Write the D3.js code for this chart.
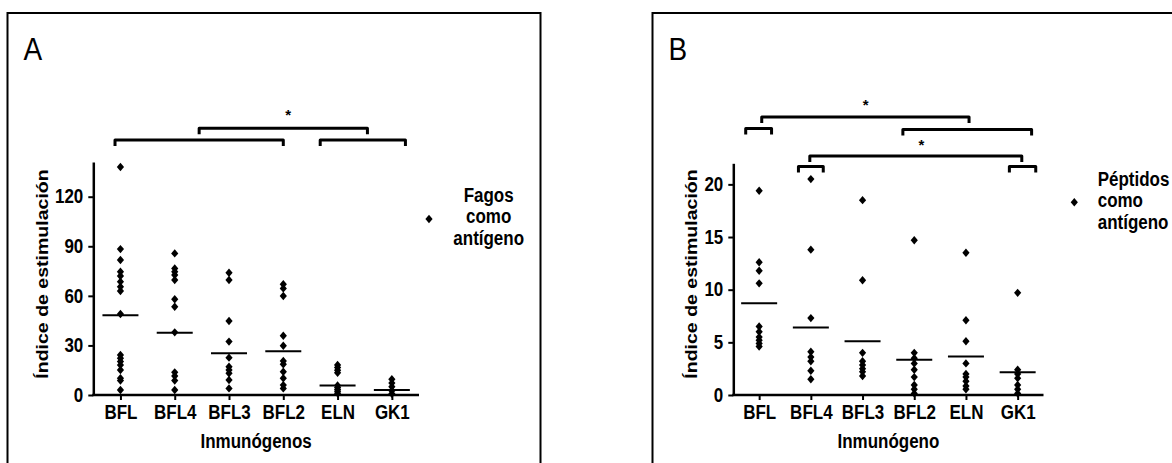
<!DOCTYPE html>
<html>
<head>
<meta charset="utf-8">
<script src="https://cdn.jsdelivr.net/npm/d3@7"></script>
<style>
  body { margin: 0; background: #fff; }
  svg { display: block; }
  text { font-family: "Liberation Sans", Arial, sans-serif; fill: #000; }
</style>
</head>
<body>
<div id="chart"></div>
<script>
const categories = ["BFL", "BFL4", "BFL3", "BFL2", "ELN", "GK1"];

// Panel A: fagos como antígeno
const fagosValues = [
  [138, 88.3, 81.7, 74.6, 72, 68.6, 65.5, 62.9, 49, 24.2, 22.2, 20.2, 18.1, 15.1, 10.1, 8.7, 3.0],
  [85.7, 76.6, 74.6, 72.6, 69.6, 57.9, 53.4, 37.9, 13.7, 11.5, 8.7, 3.0],
  [74, 69.6, 44.8, 32.3, 22.6, 17.1, 15.1, 13.1, 9.1, 4.0],
  [67, 64.5, 59.9, 35.9, 29.8, 20.6, 18.6, 14.1, 10.1, 6.0, 4.0],
  [18.2, 16.6, 15.0, 13.4, 5.8, 4.6, 3.4, 2.2, 1.0],
  [9.5, 7.2, 5.0, 2.6, 0.8]
];
const fagosMedians = [48.2, 37.6, 25.2, 26.4, 5.8, 3.0];
const fagosTicks = [0, 30, 60, 90, 120];
// significance brackets: [from category index, to category index, level in y units]
const fagosBrackets = [[-0.1, 3.0, 154.3], [1.45, 4.55, 161.4], [3.68, 5.25, 154.3]];
const fagosStars = [[3.09, 171]];

// Panel B: péptidos como antígeno
const peptidosValues = [
  [19.4, 12.6, 11.8, 10.6, 6.5, 6.0, 5.5, 5.2, 4.9, 4.6],
  [20.5, 13.8, 7.3, 4.1, 3.6, 3.2, 2.3, 1.5],
  [18.5, 10.9, 4.0, 3.2, 2.85, 2.5, 2.2, 1.8],
  [14.7, 4.0, 3.5, 3.0, 2.4, 1.7, 0.95, 0.55, 0.15],
  [13.5, 7.1, 5.1, 3.0, 2.0, 1.7, 1.3, 0.85, 0.55],
  [9.7, 2.4, 2.0, 1.6, 0.95, 0.55, 0.15]
];
const peptidosMedians = [8.7, 6.4, 5.1, 3.35, 3.65, 2.15];
const peptidosTicks = [0, 5, 10, 15, 20];
const peptidosBrackets = [
  [0.05, 4.06, 26.4], [-0.26, 0.24, 25.3], [2.78, 5.27, 25.2],
  [0.98, 5.08, 22.7], [0.76, 1.24, 21.7], [4.84, 5.35, 21.7]
];
const peptidosStars = [[2.06, 27.8], [3.14, 24.0]];

const W = 1172, H = 463;
const stretch = 1.15; // the figure is slightly stretched vertically

const svg = d3.select("#chart")
  .append("svg")
  .attr("width", W)
  .attr("height", H);

const diamond = "M0,-4.2L3.6,0L0,4.2L-3.6,0Z";

function drawPanel(p) {
  const g = svg.append("g");

  // frame around the panel (runs off the bottom)
  g.append("rect")
    .attr("x", p.frameX).attr("y", 13)
    .attr("width", p.frameW).attr("height", 500)
    .attr("fill", "none").attr("stroke", "#000").attr("stroke-width", 2);

  g.append("text")
    .attr("transform", `translate(${p.frameX + 16},60) scale(1,${stretch})`)
    .attr("font-size", 28)
    .text(p.letter);

  const x = d3.scalePoint()
    .domain(categories)
    .range([p.axisX, p.axisRight])
    .padding(0.5);

  const y = d3.scaleLinear()
    .domain([0, p.yMax])
    .range([395, p.axisTop]);

  // Y axis
  const yAxis = g.append("g")
    .attr("transform", `translate(${p.axisX},0)`)
    .call(d3.axisLeft(y).tickValues(p.ticks).tickSize(5).tickSizeOuter(0).tickPadding(5));
  yAxis.select(".domain").attr("stroke-width", 2.5);
  yAxis.selectAll(".tick line").attr("stroke-width", 2);
  yAxis.selectAll(".tick text")
    .attr("font-size", 17).attr("font-weight", "bold")
    .attr("font-family", "Liberation Sans, Arial, sans-serif")
    .attr("transform", `scale(1,${stretch})`);

  // X axis
  const xAxis = g.append("g")
    .attr("transform", "translate(0,395)")
    .call(d3.axisBottom(x).tickSize(5).tickSizeOuter(0).tickPadding(0));
  xAxis.select(".domain").attr("stroke-width", 2.5)
    .attr("d", `M${p.axisX - 1},0H${p.axisRight}`);
  xAxis.selectAll(".tick line").attr("stroke-width", 2);
  xAxis.selectAll(".tick text")
    .attr("font-size", 17).attr("font-weight", "bold")
    .attr("font-family", "Liberation Sans, Arial, sans-serif")
    .attr("y", 24.5 / stretch).attr("dy", 0)
    .attr("transform", `scale(1,${stretch})`);

  // axis titles
  g.append("text")
    .attr("transform", `translate(${(p.axisX + p.axisRight) / 2},448) scale(1,${stretch})`)
    .attr("text-anchor", "middle")
    .attr("font-size", 17).attr("font-weight", "bold")
    .text(p.xTitle);

  g.append("text")
    .attr("transform", `translate(${p.yTitleX},274) scale(1,${stretch}) rotate(-90)`)
    .attr("text-anchor", "middle")
    .attr("font-size", 17).attr("font-weight", "bold")
    .text("Índice de estimulación");

  // points
  const pts = [];
  p.values.forEach((vals, i) => vals.forEach(v => pts.push({cat: categories[i], v: v})));
  g.append("g")
    .selectAll("path")
    .data(pts)
    .enter().append("path")
    .attr("d", diamond)
    .attr("fill", "#000")
    .attr("transform", d => `translate(${x(d.cat)},${y(d.v)})`);

  // medians
  g.append("g")
    .selectAll("line")
    .data(p.medians)
    .enter().append("line")
    .attr("x1", (d, i) => x(categories[i]) - 18)
    .attr("x2", (d, i) => x(categories[i]) + 18)
    .attr("y1", d => y(d))
    .attr("y2", d => y(d))
    .attr("stroke", "#000").attr("stroke-width", 2);

  // significance brackets
  const pos = f => x(categories[0]) + f * x.step();
  g.append("g")
    .selectAll("path")
    .data(p.brackets)
    .enter().append("path")
    .attr("d", d => {
      const x1 = pos(d[0]), x2 = pos(d[1]), yy = y(d[2]);
      return `M${x1},${yy + 6}V${yy}H${x2}V${yy + 6}`;
    })
    .attr("fill", "none").attr("stroke", "#000")
    .attr("stroke-width", 3).attr("stroke-linejoin", "round");

  g.append("g")
    .selectAll("text")
    .data(p.stars)
    .enter().append("text")
    .attr("x", d => pos(d[0]))
    .attr("y", d => y(d[1]) + 8)
    .attr("text-anchor", "middle")
    .attr("font-size", 15).attr("font-weight", "bold")
    .text("*");

  // legend
  g.append("path")
    .attr("d", diamond)
    .attr("fill", "#000")
    .attr("transform", `translate(${p.legendDotX},${p.legendDotY})`);

  const leg = g.append("text")
    .attr("font-size", 17).attr("font-weight", "bold")
    .attr("text-anchor", p.legendAnchor);
  p.legendLines.forEach((t, i) => {
    leg.append("tspan")
      .attr("x", p.legendTextX)
      .attr("y", (p.legendY + i * 21.5) / stretch)
      .text(t);
  });
  leg.attr("transform", `scale(1,${stretch})`);
}

drawPanel({
  letter: "A", frameX: 7.5, frameW: 533,
  axisX: 93.3, axisRight: 419, axisTop: 162, yMax: 141,
  ticks: fagosTicks, values: fagosValues, medians: fagosMedians,
  brackets: fagosBrackets, stars: fagosStars,
  xTitle: "Inmunógenos", yTitleX: 48,
  legendDotX: 429, legendDotY: 219, legendTextX: 488.7, legendY: 202,
  legendAnchor: "middle", legendLines: ["Fagos", "como", "antígeno"]
});

drawPanel({
  letter: "B", frameX: 652.5, frameW: 540,
  axisX: 733.3, axisRight: 1043.5, axisTop: 163.3, yMax: 22,
  ticks: peptidosTicks, values: peptidosValues, medians: peptidosMedians,
  brackets: peptidosBrackets, stars: peptidosStars,
  xTitle: "Inmunógeno", yTitleX: 697,
  legendDotX: 1074.3, legendDotY: 202.3, legendTextX: 1097.7, legendY: 186,
  legendAnchor: "start", legendLines: ["Péptidos", "como", "antígeno"]
});
</script>
</body>
</html>
